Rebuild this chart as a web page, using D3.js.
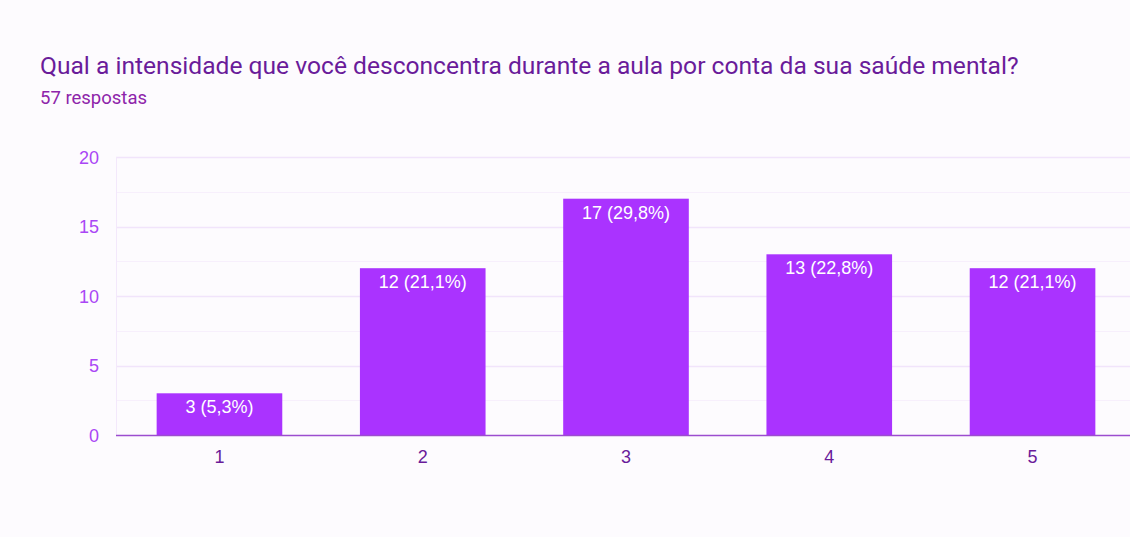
<!DOCTYPE html>
<html>
<head>
<meta charset="utf-8">
<script src="https://cdn.jsdelivr.net/npm/d3@7"></script>
<style>
  html, body { margin: 0; padding: 0; background: #fdfbfe; }
  svg { display: block; font-family: Roboto, "Noto Sans", sans-serif; }
</style>
</head>
<body>
<div id="chart"></div>
<script>
// Data
const categories = ["1", "2", "3", "4", "5"];
const counts = [3, 12, 17, 13, 12];
const percentLabels = ["5,3%", "21,1%", "29,8%", "22,8%", "21,1%"];
const yTicks = [0, 5, 10, 15, 20];
const title = "Qual a intensidade que você desconcentra durante a aula por conta da sua saúde mental?";
const subtitle = "57 respostas";

// Config
const width = 1130;
const height = 537;
const plot = { left: 116, right: 1136, top: 157, bottom: 435 };
const labelFont = "'Liberation Sans', Arial, sans-serif";

const svg = d3.select("#chart")
    .append("svg")
    .attr("width", width)
    .attr("height", height);

svg.append("rect")
    .attr("width", width)
    .attr("height", height)
    .attr("fill", "#fdfbfe");

// Header
svg.append("text")
    .attr("x", 40)
    .attr("y", 74)
    .attr("fill", "#6a1b9a")
    .style("font-size", "24.6px")
    .text(title);

svg.append("text")
    .attr("x", 40)
    .attr("y", 104)
    .attr("fill", "#8e24aa")
    .style("font-size", "18.5px")
    .text(subtitle);

// Scales
const x = d3.scaleBand()
    .domain(categories)
    .range([plot.left, plot.right])
    .paddingInner(0.382)
    .paddingOuter(0.2);

const y = d3.scaleLinear()
    .domain([0, 20])
    .range([plot.bottom, plot.top]);

// Gridlines (major + minor)
const gridVals = d3.range(0, 20.01, 2.5);
svg.append("g")
    .selectAll("line")
    .data(gridVals.filter(v => v > 0))
    .join("line")
    .attr("x1", plot.left)
    .attr("x2", width)
    .attr("y1", d => Math.round(y(d)) + 0.5)
    .attr("y2", d => Math.round(y(d)) + 0.5)
    .attr("stroke", d => d % 5 === 0 ? "#f1e4fb" : "#f7effc")
    .attr("stroke-width", d => d % 5 === 0 ? 1.5 : 1);

// vertical left edge of plot
svg.append("line")
    .attr("x1", plot.left + 0.5)
    .attr("x2", plot.left + 0.5)
    .attr("y1", plot.top)
    .attr("y2", plot.bottom)
    .attr("stroke", "#f3e8fb");

// Y axis labels
const yAxis = svg.append("g")
    .attr("transform", `translate(${plot.left - 17},0)`)
    .call(d3.axisLeft(y).tickValues(yTicks).tickSize(0).tickPadding(0));
yAxis.select(".domain").remove();
yAxis.selectAll("text")
    .attr("fill", "#aa46f5")
    .style("font-family", labelFont)
    .style("font-size", "18px")
    .attr("dy", "0.35em");

// Bars
svg.append("g")
    .selectAll("rect")
    .data(counts)
    .join("rect")
    .attr("x", (d, i) => x(categories[i]))
    .attr("y", d => y(d))
    .attr("width", x.bandwidth())
    .attr("height", d => y(0) - y(d))
    .attr("fill", "#aa33ff");

// Bar labels
svg.append("g")
    .selectAll("text")
    .data(counts)
    .join("text")
    .attr("x", (d, i) => x(categories[i]) + x.bandwidth() / 2)
    .attr("y", d => y(d) + 20)
    .attr("text-anchor", "middle")
    .attr("fill", "#ffffff")
    .style("font-family", labelFont)
    .style("font-size", "18px")
    .text((d, i) => `${d} (${percentLabels[i]})`);

// X axis baseline
svg.append("line")
    .attr("x1", plot.left)
    .attr("x2", width)
    .attr("y1", plot.bottom + 0.5)
    .attr("y2", plot.bottom + 0.5)
    .attr("stroke", "#9c4ccf")
    .attr("stroke-width", 1.5);

// X axis labels
const xAxis = svg.append("g")
    .attr("transform", `translate(0,${plot.bottom + 15})`)
    .call(d3.axisBottom(x).tickSize(0).tickPadding(0));
xAxis.select(".domain").remove();
xAxis.selectAll("text")
    .attr("fill", "#6a1b9a")
    .style("font-family", labelFont)
    .style("font-size", "18px")
    .attr("dy", "0.71em");
</script>
</body>
</html>
